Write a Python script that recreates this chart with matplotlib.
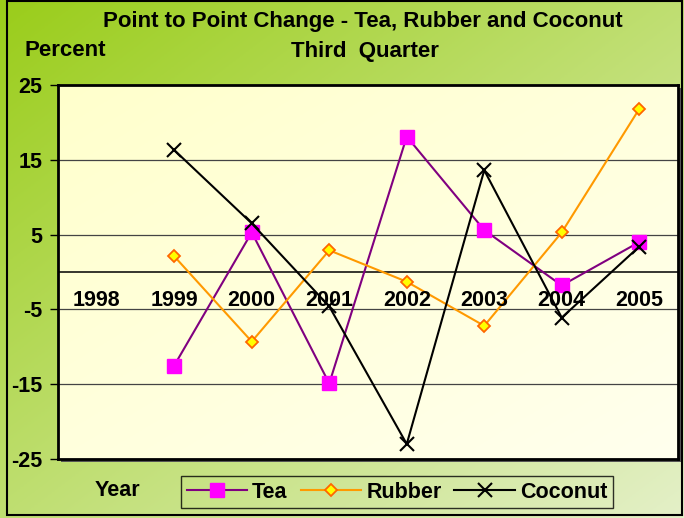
import matplotlib
matplotlib.use('Agg')
import matplotlib.pyplot as plt
import numpy as np
from matplotlib.patches import Rectangle

plt.rcParams['font.family'] = ['Liberation Sans', 'DejaVu Sans']
plt.rcParams['font.weight'] = 'bold'

# data
years = ['1998', '1999', '2000', '2001', '2002', '2003', '2004', '2005']
tea = [np.nan, -12.5, 5.3, -14.9, 18.1, 5.6, -1.8, 4.0]
rubber = [np.nan, 2.1, -9.3, 2.9, -1.3, -7.2, 5.3, 21.8]
coconut = [np.nan, 16.3, 6.5, -4.6, -23.0, 13.6, -6.1, 3.4]
yticks = [25, 15, 5, -5, -15, -25]
grid_levels = [15, 5, -5, -15]

W, H = 684, 518
fig = plt.figure(figsize=(W / 100, H / 100), dpi=100)

# green gradient background over whole figure
bg = fig.add_axes([0, 0, 1, 1], zorder=-10)
gx, gy = np.meshgrid(np.linspace(0, 1, 200), np.linspace(0, 1, 200))
t = (gx + gy) / 2
c0 = np.array([154, 205, 26]) / 255
c1 = np.array([228, 240, 200]) / 255
img = c0 + (c1 - c0) * t[..., None]
bg.imshow(img, extent=[0, 1, 0, 1], aspect='auto', origin='upper')
bg.set_xlim(0, 1)
bg.set_ylim(0, 1)
bg.axis('off')
# outer border
bg.add_patch(Rectangle((7 / W, 3 / H), (W - 9) / W, (H - 4) / H, fill=False,
                       edgecolor='black', lw=1.5, transform=bg.transAxes))

left, right, top, bottom = 58, 678, 85, 459
rect = [left / W, 1 - bottom / H, (right - left) / W, (bottom - top) / H]

# shadow of plot area
bg.add_patch(Rectangle((rect[0] + 3 / W, rect[1] - 3 / H), rect[2], rect[3],
                       facecolor='#555555', edgecolor='none', transform=bg.transAxes))

ax = fig.add_axes(rect)
p0 = np.array([255, 255, 204]) / 255
p1 = np.array([255, 255, 238]) / 255
pimg = p0 + (p1 - p0) * t[..., None]
ax.imshow(pimg, extent=[0, 1, 0, 1], transform=ax.transAxes, aspect='auto',
          origin='upper', zorder=0)

x = np.arange(len(years))
for lv in grid_levels:
    ax.axhline(lv, color='#444444', lw=0.9, zorder=1)
ax.axhline(0, color='black', lw=1.1, zorder=1)

ax.plot(x, tea, color='#800080', lw=1.5, marker='s', ms=9.5,
        mfc='#ff00ff', mec='#ff00ff', label='Tea', zorder=3)
ax.plot(x, rubber, color='#ff9900', lw=1.5, marker='D', ms=6.5,
        mfc='#ffff00', mec='#ff6600', mew=1.3, label='Rubber', zorder=3)
ax.plot(x, coconut, color='black', lw=1.5, marker='x', ms=10,
        mew=1.5, label='Coconut', zorder=3)

for i, yr in enumerate(years):
    ax.text(i, -3.8, yr, ha='center', va='center', fontsize=15.5,
            fontweight='bold', zorder=4)

ax.set_xlim(-0.5, len(years) - 0.5)
ax.set_ylim(-25, 25)
ax.set_xticks([])
ax.set_yticks(yticks)
ax.set_yticklabels([str(v) for v in yticks], fontsize=15.5, fontweight='bold')
ax.tick_params(axis='y', length=6, width=1, pad=5)
for s in ax.spines.values():
    s.set_linewidth(2)
    s.set_color('black')

fig.text(363 / W, 1 - 22 / H, 'Point to Point Change - Tea, Rubber and Coconut',
         ha='center', va='center', fontsize=16, fontweight='bold')
fig.text(365 / W, 1 - 52 / H, 'Third  Quarter', ha='center', va='center',
         fontsize=16, fontweight='bold')
fig.text(25 / W, 1 - 50 / H, 'Percent', ha='left', va='center',
         fontsize=16, fontweight='bold')
fig.text(117 / W, 1 - 490 / H, 'Year', ha='center', va='center',
         fontsize=15.5, fontweight='bold')

leg = fig.legend(loc='center', bbox_to_anchor=(397 / W, 1 - 492 / H), ncol=3,
                 prop={'size': 15.5, 'weight': 'bold'}, frameon=True, fancybox=False,
                 handlelength=2.8, handletextpad=0.25, columnspacing=0.6,
                 borderpad=0.25, borderaxespad=0)
leg.get_frame().set_edgecolor('black')
leg.get_frame().set_facecolor('none')
leg.get_frame().set_linewidth(1)

fig.savefig('out.png', dpi=100)
